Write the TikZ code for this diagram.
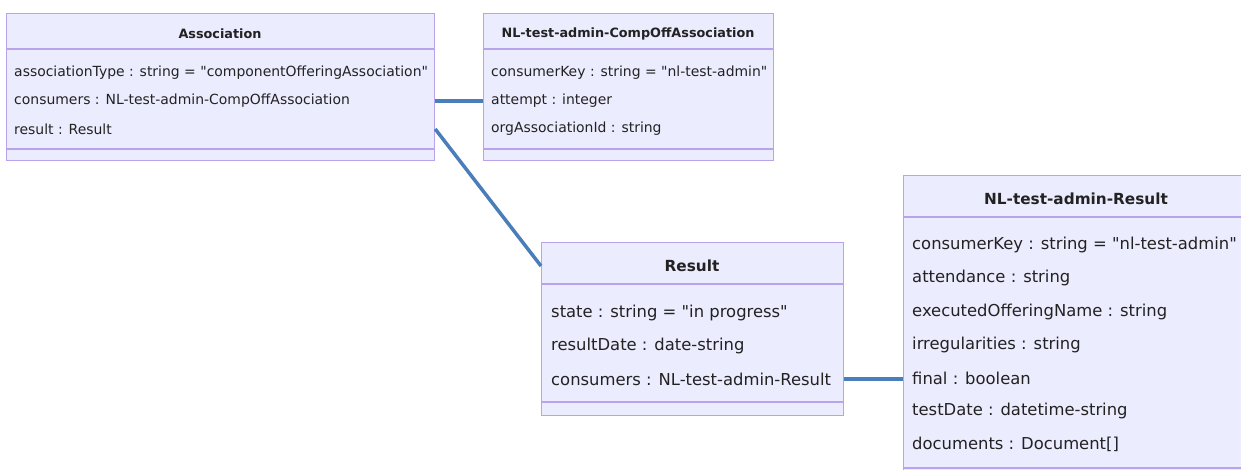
\documentclass[tikz,border=0pt]{standalone}
\usepackage{fontspec}
\setmainfont{DejaVu Sans}[Ligatures=TeXOff]
\usetikzlibrary{positioning,calc}
\definecolor{boxfill}{HTML}{ECECFF}
\definecolor{boxline}{HTML}{B9A3EC}
\definecolor{linkblue}{HTML}{4A7EBB}
\definecolor{inktext}{HTML}{222222}
\tikzset{
  classbox/.style={rectangle,draw=boxline,line width=1.2pt,fill=boxfill,anchor=north west,inner sep=0pt},
  septop/.style={draw=boxline,line width=1.2pt},
  titlesmall/.style={inner sep=0pt,font=\fontsize{12.8}{15}\selectfont\bfseries,text=inktext},
  titlebig/.style={inner sep=0pt,font=\fontsize{15.3}{18}\selectfont\bfseries,text=inktext},
  attrsmall/.style={anchor=west,inner sep=0pt,font=\fontsize{13.95}{15}\selectfont,text=inktext},
  attrbig/.style={anchor=west,inner sep=0pt,font=\fontsize{16.4}{18}\selectfont,text=inktext},
  link/.style={draw=linkblue,line width=3.5pt}
}

\begin{document}
\begin{tikzpicture}[x=1pt,y=-1pt]
  \fill[white] (0,0) rectangle (1241,470);
  \useasboundingbox (0,0) rectangle (1241,470);

  \node[classbox,minimum width=428pt,minimum height=147pt] (assoc) at (6,13) {};
  \draw[septop] ($(assoc.north west)+(0,36)$) -- ($(assoc.north east)+(0,36)$);
  \draw[septop] ($(assoc.north west)+(0,136)$) -- ($(assoc.north east)+(0,136)$);
  \node[titlesmall] (assocT) at (220,34) {Association};
  \node[attrsmall] (assocA1) at (14,73) {associationType : string = "componentOfferingAssociation"};
  \node[attrsmall] (assocA2) at (14,101) {consumers : NL-test-admin-CompOffAssociation};
  \node[attrsmall] (assocA3) at (14,129) {result : Result};

  \node[classbox,minimum width=290pt,minimum height=147pt] (compoff) at (483,13) {};
  \draw[septop] ($(compoff.north west)+(0,36)$) -- ($(compoff.north east)+(0,36)$);
  \draw[septop] ($(compoff.north west)+(0,136)$) -- ($(compoff.north east)+(0,136)$);
  \node[titlesmall] (compoffT) at (628,34) {NL-test-admin-CompOffAssociation};
  \node[attrsmall] (compoffA1) at (491,73) {consumerKey : string = "nl-test-admin"};
  \node[attrsmall] (compoffA2) at (491,101) {attempt : integer};
  \node[attrsmall] (compoffA3) at (491,129) {orgAssociationId : string};

  \node[classbox,minimum width=302pt,minimum height=173pt] (result) at (541,242) {};
  \draw[septop] ($(result.north west)+(0,42)$) -- ($(result.north east)+(0,42)$);
  \draw[septop] ($(result.north west)+(0,160)$) -- ($(result.north east)+(0,160)$);
  \node[titlebig] (resultT) at (692,266) {Result};
  \node[attrbig] (resultA1) at (551,313) {state : string = "in progress"};
  \node[attrbig] (resultA2) at (551,346) {resultDate : date-string};
  \node[attrbig] (resultA3) at (551,379) {consumers : NL-test-admin-Result};

  \node[classbox,minimum width=346pt,minimum height=310pt] (nlres) at (903,175) {};
  \draw[septop] ($(nlres.north west)+(0,42)$) -- ($(nlres.north east)+(0,42)$);
  \draw[septop] ($(nlres.north west)+(0,293)$) -- ($(nlres.north east)+(0,293)$);
  \node[titlebig] (nlresT) at (1076,199) {NL-test-admin-Result};
  \node[attrbig] (nlresA1) at (912,245) {consumerKey : string = "nl-test-admin"};
  \node[attrbig] (nlresA2) at (912,278) {attendance : string};
  \node[attrbig] (nlresA3) at (912,312) {executedOfferingName : string};
  \node[attrbig] (nlresA4) at (912,345) {irregularities : string};
  \node[attrbig] (nlresA5) at (912,378) {final : boolean};
  \node[attrbig] (nlresA6) at (912,411) {testDate : datetime-string};
  \node[attrbig] (nlresA7) at (912,444) {documents : Document[]};

  \draw[link] (assoc.east |- assocA2) -- (compoff.west |- assocA2);
  \draw[link] (assoc.east |- assocA3) -- (result.west |- resultT);
  \draw[link] (result.east |- resultA3) -- (nlres.west |- resultA3);
\end{tikzpicture}
\end{document}
